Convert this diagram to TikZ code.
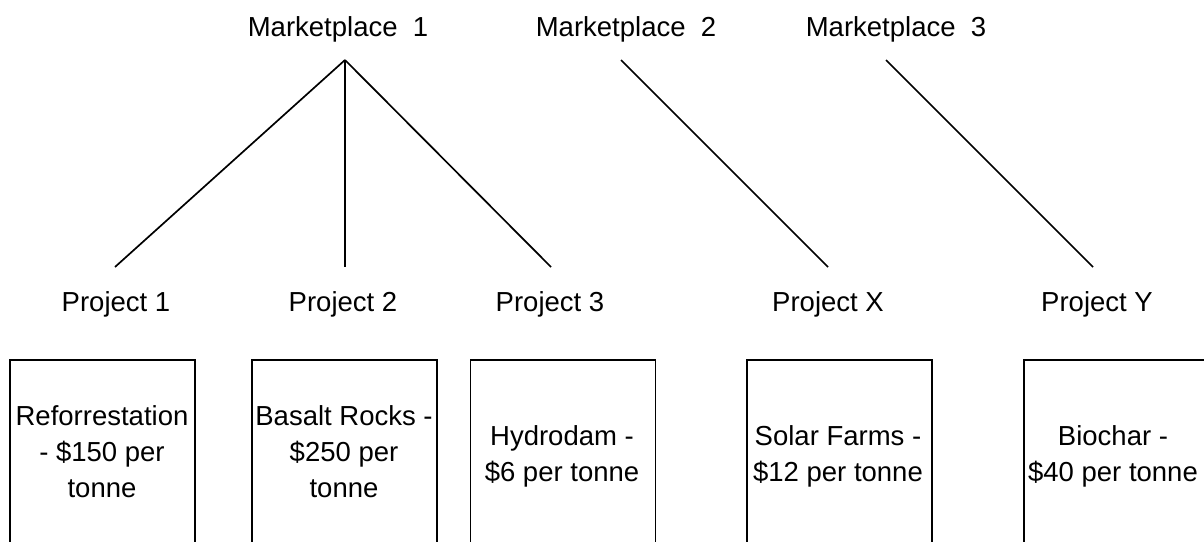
\documentclass[tikz,border=0pt]{standalone}
\usepackage{fontspec}
\setmainfont{Liberation Sans}
\begin{document}
\begin{tikzpicture}[x=1pt,y=-1pt,
  lbl/.style={font=\fontsize{27.5}{36}\selectfont, inner sep=0pt, align=center},
  costbox/.style={draw=black, line width=1.8pt, minimum width=185pt, minimum height=190pt,
    anchor=north, inner sep=0pt, font=\fontsize{27.5}{36}\selectfont, align=center},
  link/.style={draw=black, line width=1.7pt}]
\useasboundingbox (0,0) rectangle (1204,541);
\clip (0,0) rectangle (1204,541);

% marketplaces
\node[lbl] (m1) at (338,29) {Marketplace\ \ 1};
\node[lbl] (m2) at (626,29) {Marketplace\ \ 2};
\node[lbl] (m3) at (896,29) {Marketplace\ \ 3};

% projects
\node[lbl] (p1) at (116,304) {Project 1};
\node[lbl] (p2) at (343,304) {Project 2};
\node[lbl] (p3) at (550,304) {Project 3};
\node[lbl] (px) at (828,304) {Project X};
\node[lbl] (py) at (1097,304) {Project Y};

% connector ends
\coordinate (m1a) at (345,60);
\coordinate (m2a) at (621,60);
\coordinate (m3a) at (886,60);
\coordinate (p1a) at (115,267);
\coordinate (p2a) at (345,267);
\coordinate (p3a) at (551,267);
\coordinate (pxa) at (828,267);
\coordinate (pya) at (1093,267);

\draw[link] (m1a) -- (p1a);
\draw[link] (m1a) -- (p2a);
\draw[link] (m1a) -- (p3a);
\draw[link] (m2a) -- (pxa);
\draw[link] (m3a) -- (pya);

% cost boxes
\node[costbox] (b1) at (102.5,359) {};
\node[costbox] (b2) at (344.5,359) {};
\node[costbox] (b3) at (563,359) {};
\node[costbox] (b4) at (839.5,359) {};
\node[costbox] (b5) at (1116.5,359) {};

\node[lbl] (t1) at (102,452) {Reforrestation\\- \$150 per\\tonne};
\node[lbl] (t2) at (344,452) {Basalt Rocks -\\\$250 per\\tonne};
\node[lbl] (t3) at (562,456) {Hydrodam -\\\$6 per tonne};
\node[lbl] (t4) at (838,456) {Solar Farms -\\\$12 per tonne};
\node[lbl] (t5) at (1113,456) {Biochar -\\\$40 per tonne};
\end{tikzpicture}
\end{document}
